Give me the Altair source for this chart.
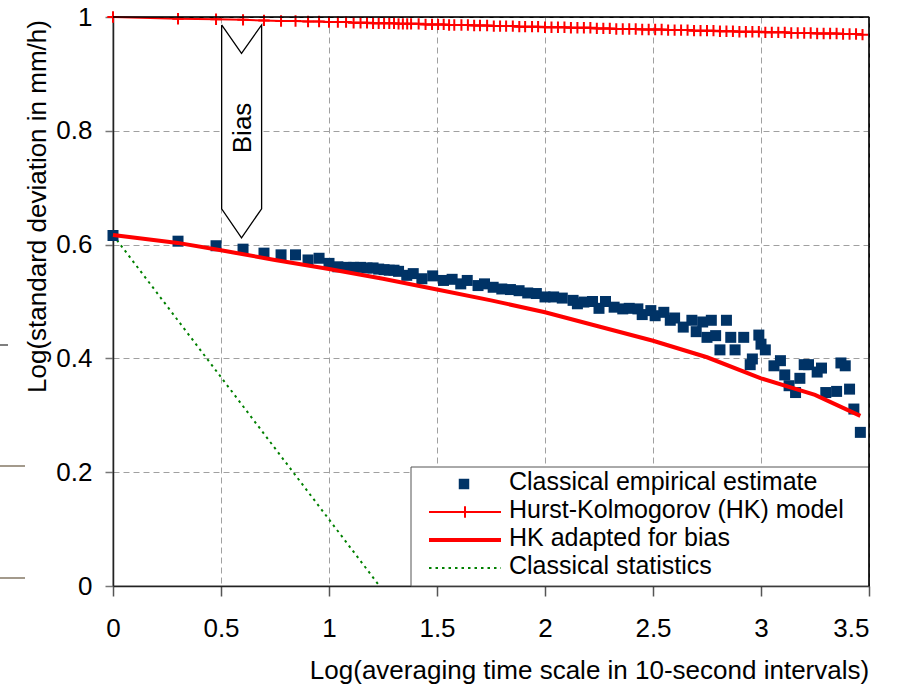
import altair as alt
import pandas as pd

# ---------------- data ----------------
EMP_X = [0, 0.301, 0.477, 0.602, 0.699, 0.778, 0.845, 0.903, 0.954, 1.0,
         1.041, 1.079, 1.114, 1.146, 1.176, 1.204, 1.230, 1.255, 1.279, 1.301,
         1.322, 1.36, 1.39, 1.43, 1.48, 1.53, 1.57, 1.61, 1.64, 1.69,
         1.72, 1.76, 1.80, 1.84, 1.88, 1.92, 1.96, 2.0, 2.04, 2.08,
         2.13, 2.15, 2.18, 2.22, 2.25, 2.28, 2.32, 2.36, 2.39, 2.43,
         2.45, 2.49, 2.51, 2.55, 2.58, 2.60, 2.64, 2.68, 2.70, 2.73,
         2.75, 2.77, 2.79, 2.81, 2.84, 2.86, 2.88, 2.92, 2.95, 2.96,
         2.99, 3.0, 3.02, 3.06, 3.09, 3.11, 3.13, 3.16, 3.18, 3.20,
         3.22, 3.26, 3.28, 3.30, 3.35, 3.37, 3.39, 3.41, 3.43, 3.46]
EMP_Y = [0.616, 0.606, 0.598, 0.592, 0.585, 0.582, 0.582, 0.573, 0.576, 0.567,
         0.561, 0.560, 0.560, 0.560, 0.559, 0.559, 0.557, 0.556, 0.555, 0.555,
         0.553, 0.546, 0.549, 0.540, 0.545, 0.537, 0.539, 0.531, 0.537, 0.528,
         0.531, 0.525, 0.522, 0.521, 0.519, 0.515, 0.514, 0.508, 0.508, 0.506,
         0.502, 0.496, 0.499, 0.500, 0.488, 0.500, 0.490, 0.487, 0.488, 0.487,
         0.477, 0.484, 0.475, 0.481, 0.467, 0.471, 0.455, 0.467, 0.447, 0.464,
         0.437, 0.467, 0.440, 0.415, 0.467, 0.437, 0.415, 0.437, 0.389, 0.399,
         0.441, 0.425, 0.415, 0.387, 0.396, 0.371, 0.352, 0.340, 0.365, 0.389,
         0.389, 0.376, 0.383, 0.340, 0.342, 0.392, 0.387, 0.346, 0.311, 0.270]

HK_X = [0, 0.301, 0.477, 0.602, 0.699, 0.778, 0.845, 0.903, 0.954, 1.0,
        1.041, 1.079, 1.114, 1.146, 1.176, 1.204, 1.230, 1.255, 1.279, 1.301,
        1.322, 1.342, 1.362, 1.380,
        1.415, 1.447, 1.477, 1.505, 1.531, 1.556, 1.580,
        1.613, 1.643, 1.672, 1.699,
        1.732, 1.763, 1.792, 1.820, 1.851, 1.881, 1.908, 1.940, 1.968,
        2.0,
        2.03, 2.06, 2.09, 2.12, 2.15, 2.18, 2.21, 2.24, 2.27, 2.30,
        2.33, 2.36, 2.39, 2.42, 2.45, 2.48, 2.51, 2.54, 2.57, 2.60,
        2.63, 2.66, 2.69, 2.72, 2.75, 2.78, 2.81, 2.84, 2.87, 2.90,
        2.93, 2.96, 2.99, 3.02, 3.05, 3.08, 3.11, 3.14, 3.17, 3.20,
        3.23, 3.26, 3.29, 3.32, 3.35, 3.38, 3.41, 3.44, 3.47]
HK_Y = [1.000, 0.997, 0.996, 0.995, 0.994, 0.993, 0.993, 0.992, 0.992, 0.991,
        0.991, 0.991, 0.990, 0.990, 0.990, 0.989, 0.989, 0.989, 0.989, 0.989,
        0.988, 0.988, 0.988, 0.988,
        0.988, 0.987, 0.987, 0.987, 0.987, 0.986, 0.986,
        0.986, 0.986, 0.985, 0.985,
        0.985, 0.984, 0.984, 0.984, 0.984, 0.983, 0.983, 0.983, 0.983,
        0.982,
        0.982, 0.982, 0.982, 0.981, 0.981, 0.981, 0.981, 0.980, 0.980, 0.980,
        0.979, 0.979, 0.979, 0.979, 0.978, 0.978, 0.978, 0.978, 0.977, 0.977,
        0.977, 0.977, 0.976, 0.976, 0.976, 0.976, 0.975, 0.975, 0.975, 0.974,
        0.974, 0.974, 0.974, 0.973, 0.973, 0.973, 0.973, 0.972, 0.972, 0.972,
        0.972, 0.971, 0.971, 0.971, 0.971, 0.970, 0.970, 0.970, 0.969]

BIAS_X = [0, 0.3, 0.5, 0.75, 1.0, 1.25, 1.5, 1.75, 2.0, 2.25, 2.5, 2.75, 3.0, 3.25, 3.46]
BIAS_Y = [0.617, 0.603, 0.590, 0.573, 0.557, 0.540, 0.521, 0.502, 0.481, 0.456,
          0.431, 0.402, 0.365, 0.336, 0.299]

CLASS_X = [0, 1.234]
CLASS_Y = [0.617, 0.0]

X_TICKS = [0, 0.5, 1, 1.5, 2, 2.5, 3, 3.5]
Y_TICKS = [0, 0.2, 0.4, 0.6, 0.8, 1]

LEGEND_LABELS = ["Classical empirical estimate", "Hurst-Kolmogorov (HK) model",
                 "HK adapted for bias", "Classical statistics"]

# "Bias" arrow annotation outline (data units)
ARROW_X = [0.503, 0.595, 0.688, 0.688, 0.595, 0.503, 0.503]
ARROW_Y = [0.986, 0.936, 0.986, 0.663, 0.612, 0.663, 0.986]
ARROW_BOX = {"x": [0.503], "x2": [0.688], "y": [0.663], "y2": [0.936]}
BIAS_LABEL = {"x": [0.639], "y": [0.805], "label": ["Bias"]}

X_TITLE = "Log(averaging time scale in 10-second intervals)"
Y_TITLE = "Log(standard deviation in mm/h)"

FONT = "Liberation Sans"
FS = 26
LFS = 25
NAVY = "#003366"
RED = "#ff0000"
GREEN = "#008000"

emp = pd.DataFrame({"x": EMP_X, "y": EMP_Y})
hk = pd.DataFrame({"x": HK_X, "y": HK_Y})
bias = pd.DataFrame({"x": BIAS_X, "y": BIAS_Y})
cls = pd.DataFrame({"x": CLASS_X, "y": CLASS_Y})
arrow = pd.DataFrame({"x": ARROW_X, "y": ARROW_Y, "i": list(range(len(ARROW_X)))})

x_axis = alt.Axis(values=X_TICKS, format="~f", title=X_TITLE,
                  grid=True, gridColor="#a0a0a0", gridDash=[6, 4], gridWidth=1,
                  tickSize=10, tickColor="#555555", tickWidth=1.5,
                  domainColor="#222222", domainWidth=1.5,
                  labelPadding=19, labelFontSize=FS, labelFont=FONT, labelColor="black",
                  labelAlign=alt.ExprRef("datum.value >= 3.5 ? 'right' : 'center'"),
                  titleFontSize=FS, titleFont=FONT, titleFontWeight="normal", titleColor="black",
                  titleX=476, titleY=92, titleAlign="center", titleBaseline="alphabetic")
y_axis = alt.Axis(values=Y_TICKS, format="~f", title=Y_TITLE,
                  grid=True, gridColor="#a0a0a0", gridDash=[6, 4], gridWidth=1,
                  tickSize=8, tickColor="#777777", tickWidth=1.5,
                  domainColor="#222222", domainWidth=1.5,
                  labelPadding=13, labelFontSize=FS, labelFont=FONT, labelColor="black",
                  titleFontSize=FS, titleFont=FONT, titleFontWeight="normal", titleColor="black",
                  titleX=-68, titleY=189, titleAngle=270, titleAlign="center",
                  titleBaseline="alphabetic")


def X(field="x"):
    return alt.X(f"{field}:Q", scale=alt.Scale(domain=[0, 3.5], nice=False, zero=False), axis=x_axis)


def Y(field="y"):
    return alt.Y(f"{field}:Q", scale=alt.Scale(domain=[0, 1], nice=False, zero=False), axis=y_axis)


layers = []

# Bias arrow (white fill + outline) and label
layers.append(alt.Chart(pd.DataFrame(ARROW_BOX)).mark_rect(fill="white", strokeWidth=0).encode(
    x=X(), x2="x2:Q", y=Y(), y2="y2:Q"))
layers.append(alt.Chart(arrow).mark_line(color="black", strokeWidth=1.3, strokeJoin="miter").encode(
    x=X(), y=Y(), order="i:Q"))
layers.append(alt.Chart(pd.DataFrame(BIAS_LABEL)).mark_text(
    angle=270, align="center", baseline="alphabetic", fontSize=FS, font=FONT, color="black").encode(
    x=X(), y=Y(), text="label:N"))

# Series
layers.append(alt.Chart(cls).mark_line(color=GREEN, strokeWidth=2, strokeDash=[2.5, 4]).encode(x=X(), y=Y()))
layers.append(alt.Chart(emp).mark_square(size=121, color=NAVY, opacity=1).encode(x=X(), y=Y()))
layers.append(alt.Chart(bias).mark_line(color=RED, strokeWidth=4).encode(x=X(), y=Y()))
layers.append(alt.Chart(hk).mark_line(color=RED, strokeWidth=2).encode(x=X(), y=Y()))
PLUS = "M-1,0H1M0,-1V1"
layers.append(alt.Chart(hk).mark_point(shape=PLUS, size=130, filled=False, color=RED,
                                       strokeWidth=2, opacity=1).encode(x=X(), y=Y()))

# Legend (drawn in pixel space of the plot area)
one = pd.DataFrame({"k": [0]})
layers.append(alt.Chart(one).mark_rect(fill="white", stroke="#555555", strokeWidth=1).encode(
    x=alt.value(298), x2=alt.value(756), y=alt.value(450), y2=alt.value(569)))
layers.append(alt.Chart(one).mark_square(size=110, color=NAVY, opacity=1).encode(
    x=alt.value(351), y=alt.value(467)))
layers.append(alt.Chart(one).mark_rule(color=RED, strokeWidth=2).encode(
    x=alt.value(316), x2=alt.value(388), y=alt.value(495)))
layers.append(alt.Chart(one).mark_point(shape=PLUS, size=130, filled=False, color=RED,
                                        strokeWidth=2, opacity=1).encode(
    x=alt.value(352), y=alt.value(495)))
layers.append(alt.Chart(one).mark_rule(color=RED, strokeWidth=4).encode(
    x=alt.value(316), x2=alt.value(388), y=alt.value(523)))
layers.append(alt.Chart(one).mark_rule(color=GREEN, strokeWidth=2, strokeDash=[2.5, 4]).encode(
    x=alt.value(316), x2=alt.value(388), y=alt.value(551)))
for lab, by in zip(LEGEND_LABELS, [473, 501, 529, 557]):
    layers.append(alt.Chart(pd.DataFrame({"label": [lab]})).mark_text(
        align="left", baseline="alphabetic", fontSize=LFS, font=FONT, color="black").encode(
        x=alt.value(396), y=alt.value(by), text="label:N"))

# stray tick marks at the far left edge of the original figure
layers.append(alt.Chart(one).mark_rule(color="#a39a8c", strokeWidth=2).encode(
    x=alt.value(-113), x2=alt.value(-88), y=alt.value(449)))
layers.append(alt.Chart(one).mark_rule(color="#a39a8c", strokeWidth=2).encode(
    x=alt.value(-113), x2=alt.value(-88), y=alt.value(561)))
layers.append(alt.Chart(one).mark_rule(color="#555555", strokeWidth=1.5).encode(
    x=alt.value(-113), x2=alt.value(-105), y=alt.value(328)))

# plot frame (top and right edges are solid black in the reference)
layers.append(alt.Chart(one).mark_rule(color="black", strokeWidth=1.5).encode(
    x=alt.value(0), x2=alt.value(756), y=alt.value(0)))
layers.append(alt.Chart(one).mark_rule(color="black", strokeWidth=1.5).encode(
    x=alt.value(756), y=alt.value(0), y2=alt.value(569)))

chart = alt.layer(*layers).properties(
    width=756, height=569,
    autosize=alt.AutoSizeParams(type="none"),
    padding={"left": 113, "top": 17, "right": 28, "bottom": 98},
    background="white",
).configure_view(stroke="black", strokeWidth=1.2)

chart.save("out.html", embed_options={"renderer": "svg", "actions": False})
